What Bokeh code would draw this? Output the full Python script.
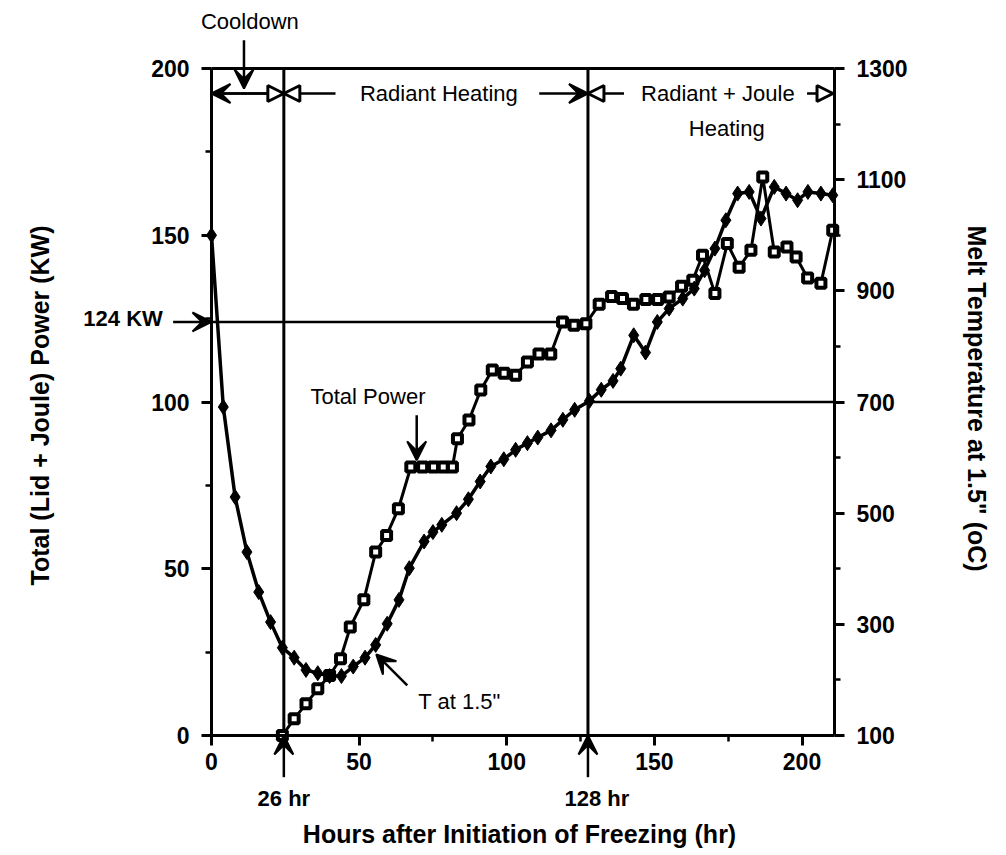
from bokeh.plotting import figure
from bokeh.models import (Range1d, LinearAxis, FixedTicker, Label, Arrow,
                          VeeHead, NormalHead)
from bokeh.embed import file_html
from bokeh.resources import INLINE

# ---------------- data ----------------
hours_power = [24, 28, 32, 36, 40, 43.7, 47, 51.6, 55.6, 59.3, 63.3, 67.5,
               71.5, 75.2, 78.5, 81.6, 83.3, 87.2, 91.2, 95.1, 99.1, 103, 107,
               110.9, 114.9, 118.9, 122.8, 126.8, 131.3, 135.5, 139.2, 142.9,
               147.1, 151.1, 155, 159.2, 163, 166.3, 170.5, 174.7, 178.7,
               182.7, 186.7, 190.6, 194.9, 198, 201.9, 206.4, 210.4]
power_kw = [0, 5, 9.5, 14, 18, 23, 32.5, 40.7, 55, 60, 68, 80.5,
            80.5, 80.5, 80.5, 80.5, 89, 94.6, 103.6, 109.6, 108.6, 108, 112,
            114.4, 114.4, 124, 123, 123.5, 129.3, 131.6, 131, 129.3,
            130.7, 130.7, 131.5, 134.7, 136.5, 144, 132.5, 147.5, 140.4,
            145.5, 167.5, 145, 146.5, 143.5, 137.2, 135.6, 151.5]

hours_temp = [0, 4, 8, 12, 16, 20, 24, 28, 32, 36, 40, 44, 48, 52, 55.6,
              59.5, 63.5, 67, 72, 75, 78, 83, 87, 91, 94.6, 99, 103, 107,
              110.5, 115, 119, 123, 128, 132, 136, 138.6, 143, 147, 151, 155,
              159.6, 163.5, 167, 170.5, 174.2, 178.2, 182.1, 186.1, 190.6,
              194.6, 198.5, 202, 206.4, 210.4]
temp_c = [1000, 691, 529, 430, 358, 304, 258, 240, 218, 212, 207, 207, 224,
          240, 263, 301, 344, 401, 449, 466, 479, 500, 525, 557, 584, 597,
          614, 626, 636, 649, 668, 686, 702, 722, 738, 760, 820, 789, 844,
          868, 886, 904, 937, 976, 1027, 1075, 1078, 1030, 1087, 1075, 1063,
          1078, 1075, 1072]

x_ticks = [0, 50, 100, 150, 200]
x_minor = [25, 75, 125, 175]
power_ticks = [0, 50, 100, 150, 200]
power_minor = [25, 75, 125, 175]
temp_ticks = [100, 300, 500, 700, 900, 1100, 1300]
temp_minor = [200, 400, 600, 800, 1000, 1200]

X_MAX = 211
P_MIN, P_MAX = 0, 200
T_MIN, T_MAX = 100, 1300

phase_hours = [24.5, 127.5]          # marked "26 hr" and "128 hr"
phase_labels = ["26 hr", "128 hr"]
power_ref_kw = 124
power_ref_label = "124 KW"
temp_ref_c = 700

# ---------------- layout (pixels) ----------------
W, H = 1006, 855
PX_LEFT, PX_RIGHT = 211, 834      # pixel columns of hour 0 and hour X_MAX
PX_BOTTOM, PX_TOP = 735, 68       # pixel rows of 0 KW and 200 KW
sx = (PX_RIGHT - PX_LEFT) / (X_MAX - 0)
sy = (PX_BOTTOM - PX_TOP) / (P_MAX - P_MIN)
x_lo = 0 - PX_LEFT / sx
x_hi = X_MAX + (W - PX_RIGHT) / sx
y_lo = P_MIN - (H - PX_BOTTOM) / sy
y_hi = P_MAX + PX_TOP / sy
k = (T_MAX - T_MIN) / (P_MAX - P_MIN)
t_lo = T_MIN + (y_lo - P_MIN) * k
t_hi = T_MIN + (y_hi - P_MIN) * k

FONT = "Liberation Sans"

p = figure(width=W, height=H, x_range=Range1d(x_lo, x_hi),
           y_range=Range1d(y_lo, y_hi), output_backend="svg",
           toolbar_location=None, min_border=0, title=None)
p.extra_y_ranges = {"temp": Range1d(t_lo, t_hi)}
p.grid.visible = False
p.outline_line_color = None
p.background_fill_color = "white"
p.border_fill_color = "white"

xaxis = p.xaxis[0]
yaxis = p.yaxis[0]
raxis = LinearAxis(y_range_name="temp")
p.add_layout(raxis, "right")
taxis = LinearAxis()
p.add_layout(taxis, "above")

xaxis.fixed_location = P_MIN
xaxis.bounds = (0, X_MAX)
taxis.fixed_location = P_MAX
taxis.bounds = (0, X_MAX)
yaxis.fixed_location = 0
yaxis.bounds = (P_MIN, P_MAX)
raxis.fixed_location = X_MAX
raxis.bounds = (T_MIN, T_MAX)

xaxis.ticker = FixedTicker(ticks=x_ticks, minor_ticks=x_minor)
yaxis.ticker = FixedTicker(ticks=power_ticks, minor_ticks=power_minor)
raxis.ticker = FixedTicker(ticks=temp_ticks, minor_ticks=temp_minor)
taxis.ticker = FixedTicker(ticks=[], minor_ticks=[])
taxis.major_label_text_font_size = "0px"

xaxis.axis_label = "Hours after Initiation of Freezing  (hr)"
yaxis.axis_label = "Total (Lid + Joule) Power  (KW)"
raxis.axis_label = "Melt Temperature at 1.5\"  (oC)"

for ax in [xaxis, yaxis, raxis, taxis]:
    ax.axis_line_width = 3
    ax.axis_line_color = "black"
    ax.major_tick_line_width = 3
    ax.minor_tick_line_width = 2.5
    ax.major_tick_out = 10
    ax.major_tick_in = 0
    ax.minor_tick_out = 6
    ax.minor_tick_in = 0
    ax.major_label_text_font = FONT
    ax.major_label_text_font_style = "bold"
    ax.major_label_text_color = "black"
    ax.axis_label_text_font = FONT
    ax.axis_label_text_font_style = "bold"
    ax.axis_label_text_font_size = "25px"
    ax.axis_label_text_color = "black"
for ax in [xaxis, yaxis, raxis]:
    ax.major_label_text_font_size = "23px"

xaxis.major_label_standoff = 7
xaxis.axis_label_standoff = 47
yaxis.major_label_standoff = 12
yaxis.axis_label_standoff = 94
raxis.major_label_standoff = 12
raxis.axis_label_standoff = 52

# ---------------- reference lines ----------------
p.segment(x0=phase_hours, y0=[P_MIN, P_MIN], x1=phase_hours,
          y1=[P_MAX, P_MAX], line_color="black", line_width=3)
p.segment(x0=[0], y0=[power_ref_kw], x1=[phase_hours[1]], y1=[power_ref_kw],
          line_color="black", line_width=2.5)
p.segment(x0=[phase_hours[1]], y0=[temp_ref_c], x1=[X_MAX], y1=[temp_ref_c],
          y_range_name="temp", line_color="black", line_width=2.5)

# ---------------- series ----------------
p.line(hours_power, power_kw, line_color="black", line_width=3)
p.scatter(hours_power, power_kw, marker="square", size=9,
          fill_color="white", line_color="black", line_width=4)
p.line(hours_temp, temp_c, y_range_name="temp", line_color="black",
       line_width=3.5)
p.scatter(hours_temp, temp_c, y_range_name="temp", marker="diamond", size=15,
          fill_color="black", line_color="black", line_width=1)

# ---------------- annotations ----------------
def lab(x, y, t, size="22px", align="center", weight="normal"):
    p.add_layout(Label(x=x, y=y, text=t, text_align=align,
                       text_baseline="middle", text_font=FONT,
                       text_font_size=size, text_font_style=weight,
                       text_color="black"))

def arr(x0, y0, x1, y1, head="vee", w=2.5):
    if head == "vee":
        h = VeeHead(size=19, fill_color="black", line_color="black",
                    line_width=2)
    else:
        h = NormalHead(size=16, fill_color="white", line_color="black",
                       line_width=3)
    p.add_layout(Arrow(end=h, x_start=x0, y_start=y0, x_end=x1, y_end=y1,
                       line_width=w, line_color="black"))

top_y = 192.5
lab(13, 214, "Cooldown")
arr(11, 208.5, 11, 194, head="vee")
arr(24.5, top_y, 0, top_y, head="vee")
arr(0, top_y, 24.5, top_y, head="open")
lab(77, top_y, "Radiant Heating")
arr(42, top_y, 24.5, top_y, head="open")
arr(111, top_y, 127.5, top_y, head="vee")
lab(171.5, top_y, "Radiant + Joule")
arr(139.7, top_y, 127.5, top_y, head="open")
arr(201.7, top_y, 210.5, top_y, head="open")
lab(174.5, 182, "Heating")

lab(53, 101.5, "Total Power")
arr(69.5, 96, 69.5, 82.5, head="vee")
lab(84, 10.3, "T at 1.5\"")
arr(66.3, 15, 55.8, 24.3, head="vee")

lab(-16.5, 125, power_ref_label, size="22px", align="right", weight="bold")
arr(-13, power_ref_kw, 0, power_ref_kw, head="vee")

label_dx = [0, 3]
for hx, ht, dx in zip(phase_hours, phase_labels, label_dx):
    arr(hx, -12.5, hx, 0, head="vee")
    lab(hx + dx, -19, ht, size="22px", weight="bold")

open("out.html", "w").write(file_html(p, INLINE))
